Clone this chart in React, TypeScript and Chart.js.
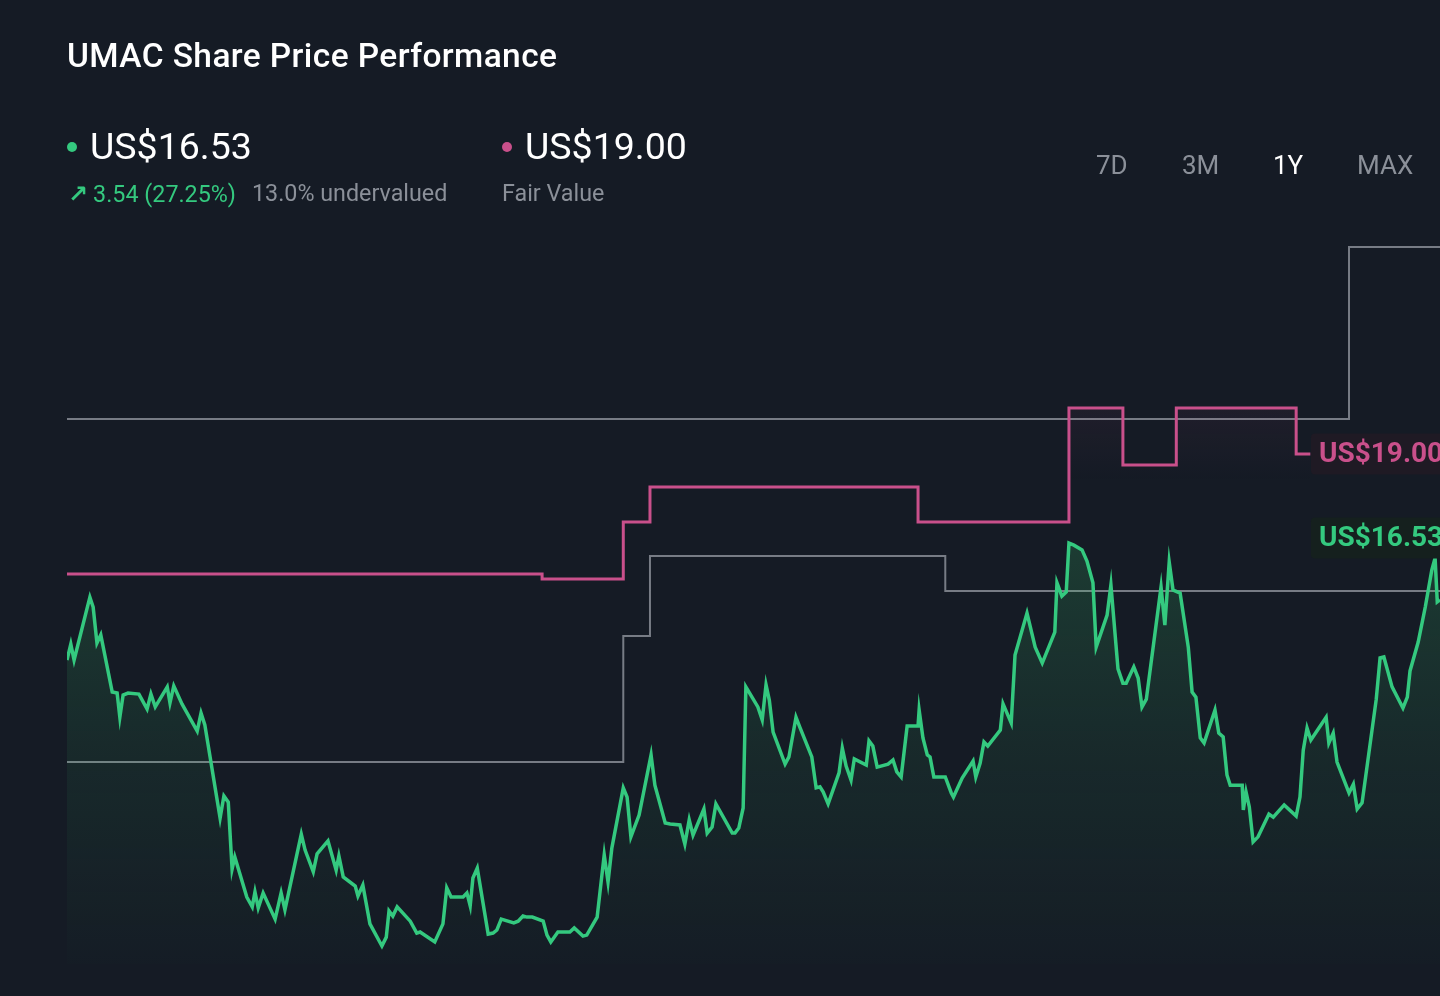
import React, { useEffect, useRef } from "react";
import { Chart, registerables } from "chart.js";

Chart.register(...registerables);

// trading day index (0 = one year ago) and closing price in US$
const priceDays = [
  0.0, 0.7, 1.3, 4.2, 4.8, 5.5, 6.2, 8.3, 9.2, 9.7, 10.3, 11.2, 13.2, 14.7, 15.4, 16.2, 18.4, 18.9, 19.6, 21.1,
  23.9, 24.6, 25.3, 28.1, 28.8, 29.6, 30.3, 30.8, 33.0, 34.0, 34.5, 35.1, 36.0, 38.2, 39.3, 40.0, 43.0, 43.7, 45.2, 45.9,
  47.9, 49.4, 49.9, 50.7, 52.9, 53.4, 54.3, 55.6, 57.8, 58.6, 59.1, 59.8, 60.6, 63.0, 64.2, 64.8, 67.5, 69.0, 69.7, 70.5,
  72.7, 73.4, 74.0, 74.5, 75.3, 77.3, 78.2, 78.9, 79.7, 82.0, 82.8, 83.7, 84.4, 85.4, 87.4, 88.1, 88.8, 90.1, 92.3, 93.1,
  94.7, 95.4, 97.3, 98.6, 99.3, 100.0, 102.1, 102.8, 103.5, 105.0, 107.2, 107.9, 109.8, 110.7, 112.5, 113.4, 114.2, 114.9, 116.9, 117.5,
  118.4, 119.1, 122.1, 122.6, 123.3, 124.1, 124.6, 126.8, 127.6, 128.3, 128.9, 129.6, 131.8, 132.5, 133.8, 134.5, 136.7, 137.5, 138.2, 138.8,
  139.7, 141.7, 142.3, 143.0, 143.9, 144.5, 146.7, 147.2, 147.9, 148.7, 150.7, 151.6, 152.3, 153.1, 154.2, 156.2, 156.4, 157.1, 157.9, 158.4,
  159.1, 161.2, 162.3, 162.7, 164.3, 166.3, 166.8, 167.6, 168.3, 169.0, 171.3, 171.8, 173.3, 174.0, 176.2, 177.7, 179.0, 181.3, 181.7, 182.6,
  183.4, 183.9, 184.8, 186.3, 187.2, 188.3, 188.9, 190.9, 191.6, 192.9, 193.8, 194.4, 195.8, 196.6, 197.3, 198.1, 200.8, 201.5, 202.3, 203.0,
  204.3, 205.8, 206.5, 207.2, 208.0, 208.7, 210.7, 211.4, 212.2, 212.9, 213.5, 215.7, 215.9, 216.4, 217.0, 217.7, 218.6, 220.6, 221.4, 223.4,
  225.6, 226.3, 226.9, 227.6, 228.3, 231.1, 231.6, 232.4, 233.1, 235.3, 236.1, 236.8, 237.7, 240.3, 241.0, 241.7, 243.2, 245.2, 246.0, 246.5,
  248.0, 249.3, 250.5, 251.1, 251.5, 252.0,
];
const priceValues = [
  12.94, 13.41, 12.94, 14.79, 14.5, 13.44, 13.68, 12.0, 11.97, 11.26, 11.91, 11.97, 11.94, 11.5, 11.94, 11.56, 12.15, 11.68, 12.18, 11.65,
  10.85, 11.38, 11.03, 8.29, 8.94, 8.76, 6.79, 7.15, 5.97, 5.68, 6.12, 5.65, 6.09, 5.32, 6.09, 5.59, 7.82, 7.35, 6.71, 7.24,
  7.62, 6.76, 7.18, 6.56, 6.29, 6.0, 6.32, 5.18, 4.53, 4.79, 5.56, 5.41, 5.68, 5.26, 4.91, 4.94, 4.65, 5.18, 6.24, 5.97,
  5.97, 6.09, 5.71, 6.53, 6.82, 4.88, 4.91, 5.0, 5.32, 5.21, 5.26, 5.41, 5.38, 5.38, 5.26, 4.85, 4.65, 4.94, 4.94, 5.06,
  4.82, 4.85, 5.38, 7.21, 6.41, 7.41, 9.18, 8.91, 7.74, 8.38, 10.15, 9.26, 8.15, 8.12, 8.09, 7.53, 8.24, 7.79, 8.56, 7.85,
  8.03, 8.71, 7.85, 7.85, 8.0, 8.59, 12.15, 11.56, 11.18, 12.21, 11.76, 10.82, 9.88, 10.09, 11.26, 10.97, 10.09, 9.18, 9.21, 9.06,
  8.71, 9.62, 10.35, 9.82, 9.41, 10.03, 9.85, 10.56, 10.41, 9.79, 9.88, 10.0, 9.65, 9.5, 11.0, 11.0, 11.47, 10.65, 10.15, 10.09,
  9.5, 9.5, 9.03, 8.91, 9.47, 9.97, 9.5, 9.91, 10.53, 10.41, 10.88, 11.65, 11.09, 13.09, 14.32, 13.32, 12.85, 13.76, 15.21, 14.82,
  14.94, 16.38, 16.32, 16.18, 15.85, 15.21, 13.32, 14.26, 15.15, 12.68, 12.26, 12.26, 12.74, 12.41, 11.56, 11.79, 15.09, 13.97, 15.82, 15.0,
  14.91, 13.32, 12.0, 11.85, 10.65, 10.5, 11.47, 10.79, 10.68, 9.56, 9.26, 9.26, 8.53, 9.06, 8.62, 7.59, 7.74, 8.41, 8.32, 8.68,
  8.35, 8.91, 10.29, 10.94, 10.59, 11.26, 10.5, 10.79, 9.94, 9.03, 9.29, 8.56, 8.74, 11.79, 13.0, 13.03, 12.15, 11.53, 11.85, 12.62,
  13.47, 14.5, 15.59, 15.94, 14.65, 14.71,
];

// fair value estimate (step changes)
const fairValueDays = [0, 87.2, 102.1, 107.0, 156.2, 183.9, 193.8, 203.6, 225.6, 228.2];
const fairValueValues = [15.47, 15.32, 17.0, 18.03, 17.0, 20.35, 18.68, 20.35, 19.0, 19.0];

// grey reference step lines
const upperRefDays = [0, 235.3, 252];
const upperRefValues = [20.03, 25.09, 25.09];
const lowerRefDays = [0, 102.1, 107.0, 161.2, 252];
const lowerRefValues = [9.94, 13.65, 16.0, 14.97, 14.97];

const currentPrice = 16.53;
const fairValue = 19.0;
const rangeButtons = ["7D", "3M", "1Y", "MAX"];

const BG = "#151b25";
const GREEN = "#34c97f";
const PINK = "#c9508b";
const GREY = "#777c85";
const TEXT_GREY = "#8b9099";
const FONT = "Roboto, 'Noto Sans', sans-serif";

const toPoints = (xs: number[], ys: number[]) => xs.map((x, i) => ({ x, y: ys[i] }));

const labelPlugin = {
  id: "valueLabels",
  afterDatasetsDraw(chart: any) {
    const { ctx, scales } = chart;
    const y = scales.y;
    const drawLabel = (value: number, bg: string, color: string) => {
      const cy = y.getPixelForValue(value);
      const x0 = 1311;
      const h = 41;
      ctx.save();
      ctx.fillStyle = bg;
      ctx.beginPath();
      if (ctx.roundRect) ctx.roundRect(x0, cy - h / 2, 160, h, 4);
      else ctx.rect(x0, cy - h / 2, 160, h);
      ctx.fill();
      ctx.fillStyle = color;
      ctx.font = "bold 28px Roboto, 'Noto Sans', sans-serif";
      ctx.textBaseline = "middle";
      ctx.textAlign = "left";
      ctx.fillText("US$" + value.toFixed(2), x0 + 8, cy + 1);
      ctx.restore();
    };
    drawLabel(fairValue, "#1f1a24", PINK);
    drawLabel(currentPrice, "#15201e", GREEN);
  },
};

function PriceChart() {
  const ref = useRef<HTMLCanvasElement | null>(null);
  useEffect(() => {
    if (!ref.current) return;
    const chart = new Chart(ref.current, {
      type: "line",
      data: {
        datasets: [
          {
            label: "Share price",
            data: toPoints(priceDays, priceValues),
            borderColor: GREEN,
            borderWidth: 3.5,
            pointRadius: 0,
            tension: 0,
            fill: "start",
            order: 0,
            backgroundColor: (c: any) => {
              const { chart: ch } = c;
              const area = ch.chartArea;
              if (!area) return "transparent";
              const g = ch.ctx.createLinearGradient(0, ch.scales.y.getPixelForValue(17), 0, area.bottom);
              g.addColorStop(0, "rgba(60,200,110,0.20)");
              g.addColorStop(0.5, "rgba(60,200,110,0.09)");
              g.addColorStop(1, "rgba(60,200,110,0.01)");
              return g;
            },
          } as any,
          {
            label: "Fair value",
            data: toPoints(fairValueDays, fairValueValues),
            borderColor: PINK,
            borderWidth: 3,
            pointRadius: 0,
            stepped: "before",
            order: 1,
            fill: "start",
            backgroundColor: (c: any) => {
              const { chart: ch } = c;
              if (!ch.chartArea) return "transparent";
              const g = ch.ctx.createLinearGradient(0, ch.scales.y.getPixelForValue(20.4), 0, ch.scales.y.getPixelForValue(18.2));
              g.addColorStop(0, "rgba(201,80,139,0.06)");
              g.addColorStop(1, "rgba(201,80,139,0)");
              return g;
            },
          } as any,
          {
            label: "Upper",
            data: toPoints(upperRefDays, upperRefValues),
            borderColor: GREY,
            borderWidth: 2,
            pointRadius: 0,
            stepped: "before",
            order: 2,
            fill: false,
          } as any,
          {
            label: "Lower",
            data: toPoints(lowerRefDays, lowerRefValues),
            borderColor: GREY,
            borderWidth: 2,
            pointRadius: 0,
            stepped: "before",
            order: 3,
            fill: false,
          } as any,
        ],
      },
      options: {
        responsive: false,
        animation: false,
        devicePixelRatio: 1,
        layout: { padding: { left: 67, right: 0, top: 216, bottom: 32 } },
        scales: {
          x: { type: "linear", min: 0, max: 252, display: false },
          y: { type: "linear", min: 4, max: 26, display: false },
        },
        plugins: { legend: { display: false }, tooltip: { enabled: false } },
      },
      plugins: [labelPlugin],
    });
    return () => chart.destroy();
  }, []);
  return (
    <canvas
      ref={ref}
      width={1440}
      height={996}
      style={{ position: "absolute", left: 0, top: 0, width: 1440, height: 996 }}
    />
  );
}

const abs = (left: number, top: number, extra: React.CSSProperties = {}): React.CSSProperties => ({
  position: "absolute",
  left,
  top,
  lineHeight: 1,
  whiteSpace: "nowrap",
  fontFamily: FONT,
  ...extra,
});

export default function App() {
  const btnLefts = [1096, 1182, 1273, 1357];
  return (
    <div
      style={{
        position: "fixed",
        left: 0,
        top: 0,
        width: 1440,
        height: 996,
        overflow: "hidden",
        background: BG,
        fontFamily: FONT,
      }}
    >
      <PriceChart />
      <div style={abs(67, 39, { fontSize: 33.5, fontWeight: 500, letterSpacing: 0.4, color: "#ffffff" })}>
        UMAC Share Price Performance
      </div>

      <div style={abs(67, 142, { width: 10, height: 10, borderRadius: 5, background: GREEN })} />
      <div style={abs(90, 128, { fontSize: 37.5, color: "#ffffff" })}>US$16.53</div>
      <div style={abs(68, 182, { fontSize: 23.3, color: GREEN })}>
        <span style={{ fontFamily: "'DejaVu Sans', sans-serif", fontWeight: 700, fontSize: 24 }}>↗</span>
        <span style={{ marginLeft: 5 }}>3.54 (27.25%)</span>
      </div>
      <div style={abs(252, 182, { fontSize: 23.3, color: TEXT_GREY })}>13.0% undervalued</div>

      <div style={abs(502, 142, { width: 10, height: 10, borderRadius: 5, background: PINK })} />
      <div style={abs(525, 128, { fontSize: 37.5, color: "#ffffff" })}>US$19.00</div>
      <div style={abs(502, 182, { fontSize: 23.3, color: TEXT_GREY })}>Fair Value</div>

      {rangeButtons.map((b, i) => (
        <div key={b} style={abs(btnLefts[i], 152, { fontSize: 26, color: b === "1Y" ? "#ffffff" : TEXT_GREY })}>
          {b}
        </div>
      ))}
    </div>
  );
}
